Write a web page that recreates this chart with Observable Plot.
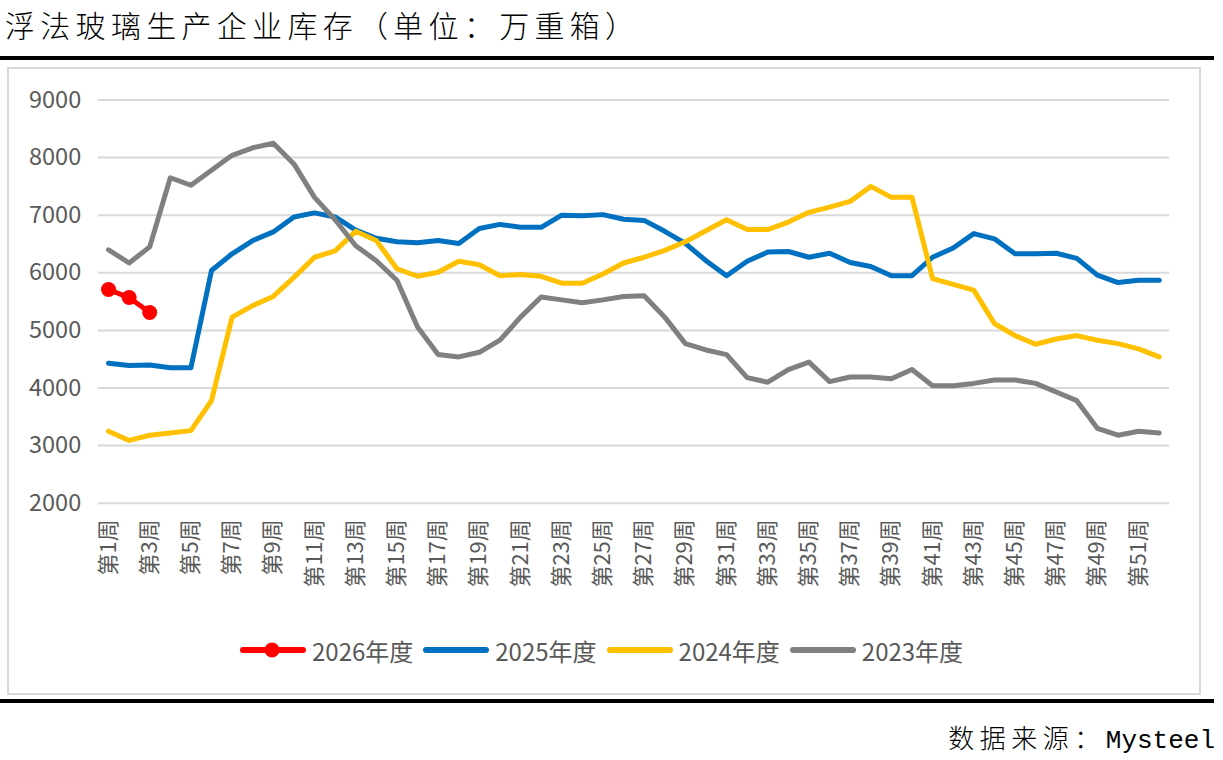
<!DOCTYPE html>
<html>
<head>
<meta charset="utf-8">
<script src="https://cdn.jsdelivr.net/npm/d3@7"></script>
<script src="https://cdn.jsdelivr.net/npm/@observablehq/plot@0.6"></script>
<style>
  html, body { margin: 0; padding: 0; background: #fff; }
  body { width: 1223px; height: 760px; position: relative; overflow: hidden; font-family: "Noto Sans CJK SC", "Noto Sans", sans-serif; }
  #title { position: absolute; left: 5px; top: 2px; font-size: 30px; letter-spacing: 5.3px; font-weight: 300; color: #000; white-space: nowrap; }
  .bar { position: absolute; left: 0; width: 1214px; height: 4px; background: #000; }
  #frame { position: absolute; left: 7px; top: 67px; width: 1194px; height: 628px; border: 2px solid #d9d9d9; box-sizing: border-box; }
  #chart { position: absolute; left: 0; top: 0; }
  #legend { position: absolute; left: 240px; top: 632px; height: 36px; display: flex; align-items: center; font-size: 24px; color: #595959; white-space: nowrap; }
  .item { display: flex; align-items: center; margin-right: 10px; }
  .item svg { margin-right: 6px; }
  #source { position: absolute; right: 8px; top: 718px; font-size: 26px; letter-spacing: 5.5px; color: #000; font-weight: 300; white-space: nowrap; }
  #source .m { font-family: "Liberation Mono", monospace; letter-spacing: 0; font-weight: 400; }
</style>
</head>
<body>
<div id="title">浮法玻璃生产企业库存（单位：万重箱）</div>
<div class="bar" style="top:56px"></div>
<div id="frame"></div>
<div id="chart"></div>
<div id="legend"></div>
<div class="bar" style="top:699px"></div>
<div id="source">数据来源：<span class="m">Mysteel</span></div>
<script>
const weeks = d3.range(1, 53);
const weekTicks = d3.range(1, 53, 2);
const yTicks = [2000, 3000, 4000, 5000, 6000, 7000, 8000, 9000];
const seriesNames = ["2026年度", "2025年度", "2024年度", "2023年度"];
const seriesColors = ["#FF0000", "#0070C0", "#FFC000", "#808080"];

const v2026 = [5710, 5570, 5310];
const v2025 = [4430,4390,4400,4350,4350,6040,6330,6560,6710,6970,7040,6970,6740,6600,6540,6520,6560,6510,6770,6840,6790,6790,7000,6990,7010,6930,6910,6720,6510,6210,5950,6200,6360,6370,6270,6340,6180,6110,5950,5950,6270,6430,6680,6590,6330,6330,6340,6250,5960,5830,5870,5870];
const v2024 = [3250,3090,3180,3220,3260,3780,5230,5430,5590,5920,6270,6380,6720,6560,6070,5940,6010,6200,6140,5950,5970,5940,5820,5820,5980,6170,6270,6390,6540,6730,6920,6750,6750,6880,7050,7140,7240,7500,7310,7310,5900,5800,5700,5120,4910,4760,4850,4910,4830,4770,4680,4540];
const v2023 = [6400,6170,6450,7650,7520,7780,8040,8170,8250,7890,7310,6920,6470,6210,5870,5060,4580,4540,4620,4830,5230,5580,5530,5480,5530,5590,5600,5230,4770,4660,4580,4180,4100,4320,4450,4110,4190,4190,4160,4320,4040,4040,4080,4140,4140,4080,3930,3780,3300,3180,3250,3220];

const toRows = (vals, name) => vals.map((v, i) => ({week: weeks[i], value: v, series: name}));
const d2026 = toRows(v2026, seriesNames[0]);
const d2025 = toRows(v2025, seriesNames[1]);
const d2024 = toRows(v2024, seriesNames[2]);
const d2023 = toRows(v2023, seriesNames[3]);

const W = 1223, H = 620;
const lineOpts = {x: "week", y: "value", strokeWidth: 5, strokeLinejoin: "round", strokeLinecap: "round"};

const chart = Plot.plot({
  width: W,
  height: H,
  marginTop: 99.5,
  marginBottom: H - 502.7,
  marginLeft: 97.7,
  marginRight: W - 1169,
  style: {background: "transparent", fontFamily: "'Noto Sans CJK SC', 'Noto Sans', sans-serif"},
  x: {domain: [0.5, 52.5]},
  y: {domain: [2000, 9000]},
  marks: [
    Plot.gridY(yTicks, {stroke: "#d9d9d9", strokeOpacity: 1, strokeWidth: 2}),
    Plot.axisY(yTicks, {tickSize: 0, tickPadding: 17, fontSize: 23.5, fill: "#595959", label: null, tickFormat: d => String(d)}),
    Plot.axisX(weekTicks, {tickSize: 0, tickPadding: 16, tickRotate: -90, fontSize: 22, fill: "#595959", label: null, tickFormat: d => `第${d}周`}),
    Plot.line(d2025, {...lineOpts, stroke: seriesColors[1]}),
    Plot.line(d2024, {...lineOpts, stroke: seriesColors[2]}),
    Plot.line(d2023, {...lineOpts, stroke: seriesColors[3]}),
    Plot.line(d2026, {...lineOpts, stroke: seriesColors[0]}),
    Plot.dot(d2026, {x: "week", y: "value", r: 7.5, fill: seriesColors[0], stroke: "none"})
  ]
});
document.getElementById("chart").appendChild(chart);

const legend = document.getElementById("legend");
seriesNames.forEach((name, i) => {
  const item = document.createElement("div");
  item.className = "item";
  const dot = i === 0 ? `<circle cx="32" cy="10" r="7.5" fill="${seriesColors[i]}"/>` : "";
  item.innerHTML = `<svg width="66" height="20"><line x1="3" y1="10" x2="63" y2="10" stroke="${seriesColors[i]}" stroke-width="6" stroke-linecap="round"/>${dot}</svg><span>${name}</span>`;
  legend.appendChild(item);
});
</script>
</body>
</html>
